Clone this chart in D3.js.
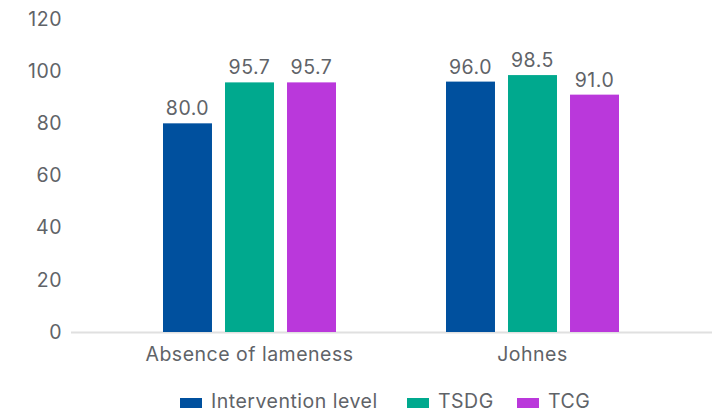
<!DOCTYPE html>
<html>
<head>
<meta charset="utf-8">
<script src="https://cdn.jsdelivr.net/npm/d3@7"></script>
<style>
  html, body { margin: 0; padding: 0; background: #fff; }
  svg { display: block; font-family: Inter, Roboto, sans-serif; }
  svg text { letter-spacing: 0.5px; }
</style>
</head>
<body>
<svg id="chart" width="721" height="415"></svg>
<script>
// Categories, series and values
const categories = ["Absence of lameness", "Johnes"];
const seriesNames = ["Intervention level", "TSDG", "TCG"];
const interventionLevel = [80.0, 96.0];
const tsdg = [95.7, 98.5];
const tcg = [95.7, 91.0];
const yTicks = [0, 20, 40, 60, 80, 100, 120];
const seriesColors = ["#00509E", "#00A98E", "#BA38DB"];

const seriesValues = [interventionLevel, tsdg, tcg];

const svg = d3.select("#chart");
const textColor = "#5f6368";
const fontSize = "19.5px";

const y = d3.scaleLinear().domain([0, 120]).range([332, 19]);
const x0 = d3.scaleBand().domain(categories).range([108, 674]);
const x1 = d3.scaleBand().domain(seriesNames).range([55, 228]).paddingInner(0.21);

// Baseline
svg.append("line")
  .attr("x1", 71).attr("x2", 712)
  .attr("y1", y(0) + 0.5).attr("y2", y(0) + 0.5)
  .attr("stroke", "#e0e0e0").attr("stroke-width", 2);

// Y axis tick labels
const yAxis = d3.axisLeft(y).tickValues(yTicks).tickSize(0).tickPadding(0);
const gy = svg.append("g").attr("transform", "translate(62,0)").call(yAxis);
gy.select(".domain").remove();
gy.selectAll("text")
  .attr("fill", textColor)
  .style("font-size", fontSize)
  .style("font-family", "Inter, sans-serif");

// Category labels
const xAxis = d3.axisBottom(x0).tickSize(0).tickPadding(0);
const gx = svg.append("g").attr("transform", `translate(0,${y(0)})`).call(xAxis);
gx.select(".domain").remove();
gx.selectAll("text")
  .attr("fill", textColor)
  .attr("dy", "1.5em")
  .style("font-size", fontSize)
  .style("font-family", "Inter, sans-serif");

// Bars and value labels
const groups = svg.append("g").selectAll("g")
  .data(categories)
  .join("g")
  .attr("transform", d => `translate(${x0(d)},0)`);

groups.selectAll("rect")
  .data((c, i) => seriesNames.map((s, j) => ({ s, v: seriesValues[j][i], color: seriesColors[j] })))
  .join("rect")
  .attr("x", d => x1(d.s))
  .attr("width", x1.bandwidth())
  .attr("y", d => y(d.v))
  .attr("height", d => y(0) - y(d.v))
  .attr("fill", d => d.color);

groups.selectAll("text.value")
  .data((c, i) => seriesNames.map((s, j) => ({ s, v: seriesValues[j][i] })))
  .join("text")
  .attr("class", "value")
  .attr("x", d => x1(d.s) + x1.bandwidth() / 2)
  .attr("y", d => y(d.v) - 8)
  .attr("text-anchor", "middle")
  .attr("fill", textColor)
  .style("font-size", fontSize)
  .text(d => d3.format(".1f")(d.v));

// Legend
const legendX = [180, 407, 517];
const legend = svg.append("g").selectAll("g")
  .data(seriesNames)
  .join("g")
  .attr("transform", (d, i) => `translate(${legendX[i]},0)`);
legend.append("rect")
  .attr("x", 0).attr("y", 398)
  .attr("width", 22).attr("height", 10)
  .attr("fill", (d, i) => seriesColors[i]);
legend.append("text")
  .attr("x", 31).attr("y", 408)
  .attr("fill", textColor)
  .style("font-size", fontSize)
  .text(d => d);
</script>
</body>
</html>
